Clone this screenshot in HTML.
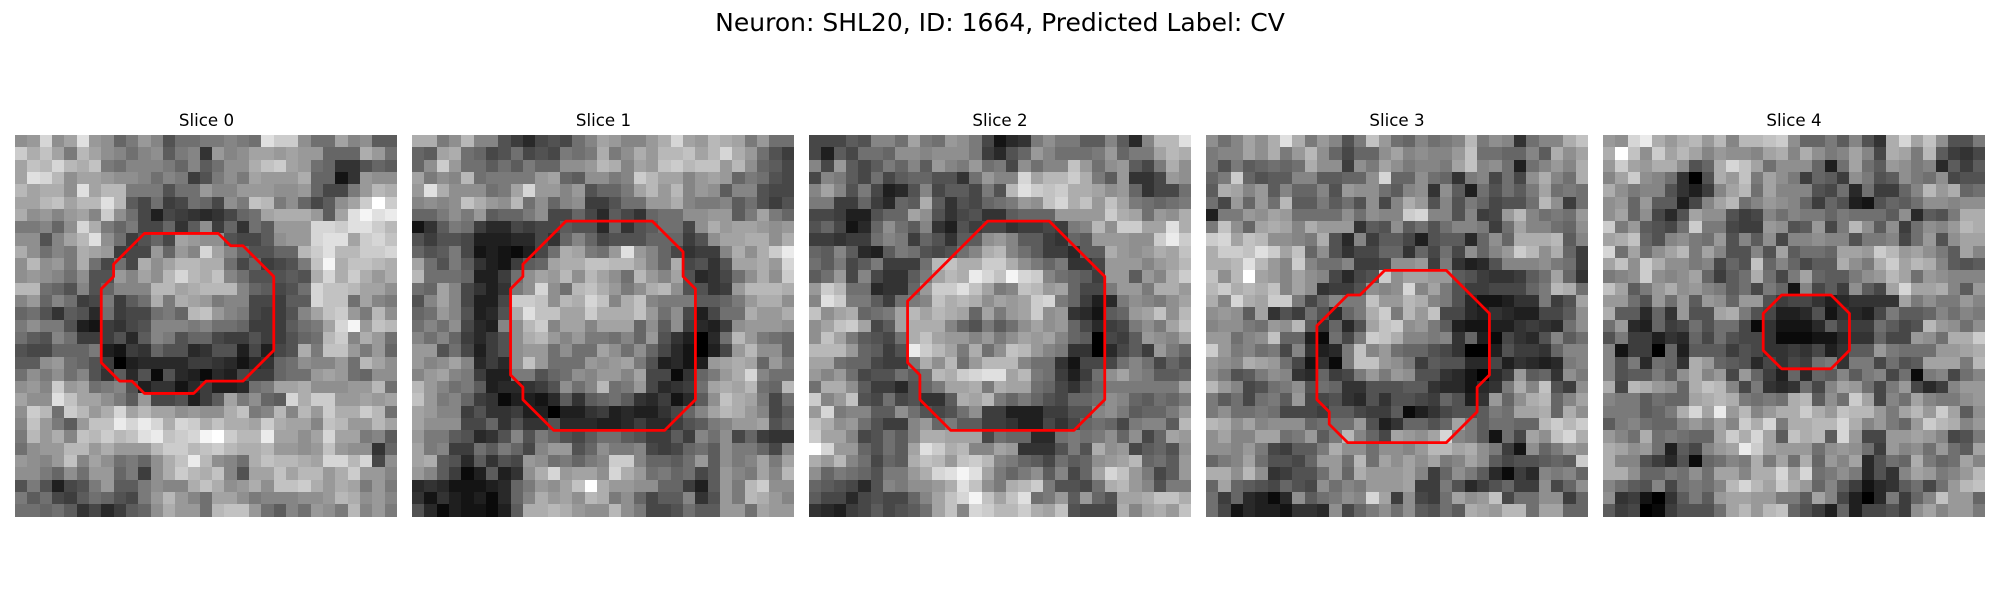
<!DOCTYPE html>
<html lang="en">
<head>
<meta charset="utf-8">
<title>Neuron slices</title>
<style>
html,body{margin:0;padding:0;background:#fff;width:2000px;height:600px;overflow:hidden}
svg{display:block}
text{font-family:"DejaVu Sans","Liberation Sans",sans-serif;fill:#000}
</style>
</head>
<body>
<svg id="figure" width="2000" height="600" viewBox="0 0 2000 600" xmlns="http://www.w3.org/2000/svg">
<rect x="0" y="0" width="2000" height="600" fill="#ffffff"/>
<text x="1000" y="31" font-size="25" text-anchor="middle">Neuron: SHL20, ID: 1664, Predicted Label: CV</text>
<text x="206.5" y="126" font-size="16.67" text-anchor="middle">Slice 0</text>
<text x="603.5" y="126" font-size="16.67" text-anchor="middle">Slice 1</text>
<text x="1000" y="126" font-size="16.67" text-anchor="middle">Slice 2</text>
<text x="1397" y="126" font-size="16.67" text-anchor="middle">Slice 3</text>
<text x="1794" y="126" font-size="16.67" text-anchor="middle">Slice 4</text>
</svg>
<script>
var slice0Values = [
[14,15,21,14,16,22,15,14,10,12,15,13,8,11,11,12,12,13,12,11,22,20,20,14,11,11,16,13,14,9,9],
[20,17,19,16,12,18,16,14,13,11,13,14,9,12,13,5,15,13,14,16,16,15,16,15,15,10,10,10,17,15,11],
[16,19,18,21,18,17,19,12,11,13,13,13,12,10,13,9,11,14,14,17,19,20,16,15,11,10,5,5,8,10,9],
[16,22,21,18,14,16,16,15,14,14,13,11,13,12,6,8,12,14,12,16,15,15,15,17,10,10,2,5,15,14,14],
[18,16,17,17,14,22,16,18,18,12,12,12,8,11,11,15,13,13,15,15,15,14,14,15,10,7,7,12,15,18,17],
[16,16,18,19,16,18,18,22,18,9,7,11,6,7,11,10,7,14,12,19,18,12,14,10,7,9,14,16,20,25,20],
[17,14,15,13,15,16,13,20,14,11,7,3,7,6,5,4,5,7,10,11,16,17,17,17,15,9,16,22,24,22,23],
[12,12,13,10,14,21,17,12,10,12,7,7,10,5,9,14,6,10,5,11,9,15,15,15,21,21,20,22,22,20,18],
[14,14,8,13,16,18,22,14,11,6,8,10,7,16,15,14,14,8,7,7,9,14,15,15,21,22,22,16,20,21,19],
[17,14,11,13,12,17,16,15,6,7,7,15,10,15,13,21,16,13,10,8,8,10,10,18,20,22,18,18,20,20,21],
[14,18,14,15,12,17,11,7,11,7,17,14,16,18,18,17,17,11,7,10,6,7,8,12,19,24,17,19,19,18,17],
[14,15,14,13,11,14,8,8,15,13,16,14,18,21,18,17,19,13,11,8,8,8,9,8,17,21,17,20,17,15,17],
[18,18,11,10,8,13,8,10,13,13,13,18,18,16,17,18,18,18,13,10,9,7,8,11,21,19,19,18,16,16,14],
[13,15,10,13,11,6,7,12,6,9,11,17,12,17,16,15,12,13,13,7,7,6,9,9,21,19,19,11,16,13,12],
[10,11,8,5,9,8,4,11,6,7,7,11,12,10,18,19,15,13,12,7,6,6,8,13,16,19,20,15,12,18,14],
[12,14,12,12,8,3,2,6,5,7,8,13,13,13,12,13,11,11,10,6,6,6,9,11,12,16,21,24,15,19,18],
[11,9,8,13,11,6,6,6,8,4,9,13,12,8,10,10,7,6,6,8,6,6,8,10,11,18,20,13,17,15,11],
[8,7,7,10,10,10,12,3,2,6,5,10,8,8,4,5,8,8,3,7,3,7,8,17,12,19,19,15,12,15,10],
[9,9,14,15,11,10,8,6,0,3,4,4,4,4,6,6,5,4,2,4,5,10,11,14,13,13,15,11,18,16,14],
[11,14,12,14,11,13,8,5,9,4,8,1,8,4,3,1,4,3,7,6,6,10,11,11,15,16,15,11,10,14,14],
[14,15,13,20,15,16,11,12,13,8,3,5,5,2,4,6,3,3,4,11,12,16,16,17,14,14,14,15,15,18,11],
[16,14,14,22,19,16,16,14,12,9,15,7,7,8,3,6,9,16,12,14,10,9,21,17,20,20,15,15,16,15,16],
[14,20,18,11,20,18,15,17,21,16,18,16,16,14,15,14,14,17,19,12,13,18,13,18,15,20,17,17,20,18,11],
[13,19,15,12,9,15,19,19,23,21,23,21,17,21,20,17,19,17,17,16,20,17,16,16,13,19,18,15,15,18,16],
[12,18,15,17,13,19,18,20,18,19,22,23,19,20,21,24,25,20,18,18,23,16,16,14,16,21,16,16,12,13,9],
[11,14,15,15,18,18,15,17,15,15,15,18,20,20,18,19,20,18,17,17,18,15,15,14,15,19,15,14,14,5,10],
[15,14,13,15,19,13,16,14,11,12,10,14,17,19,23,18,14,13,11,17,19,18,18,17,16,21,21,18,21,7,14],
[14,14,12,10,14,11,15,15,10,12,6,14,17,20,18,17,19,13,8,16,16,19,16,18,18,15,17,20,15,15,13],
[8,12,8,3,7,8,12,15,9,9,12,14,13,13,17,19,17,14,15,17,14,19,19,20,17,15,17,16,12,15,12],
[12,9,11,7,6,9,11,10,8,7,12,15,18,15,13,11,16,16,14,12,13,13,13,14,14,15,18,17,14,15,13],
[11,11,10,11,9,5,7,4,6,9,10,14,17,15,15,11,18,19,19,15,11,9,13,11,15,14,12,18,13,15,12]
];
var slice1Values = [
[17,17,12,14,18,13,13,8,6,4,7,8,7,11,13,16,15,13,13,15,17,21,16,15,18,17,16,12,15,11,11],
[10,9,16,17,11,10,7,8,11,7,8,7,12,11,12,17,12,14,17,15,18,18,19,16,18,21,17,15,11,8,6],
[10,14,20,15,11,11,9,11,9,12,10,10,14,14,15,18,17,13,16,15,19,20,18,19,19,15,18,14,10,9,7],
[16,12,14,13,18,11,12,12,12,12,15,16,10,9,14,14,12,13,20,18,16,16,13,15,16,15,10,12,11,8,7],
[15,22,17,14,14,14,11,12,16,21,15,15,13,15,8,10,10,12,16,18,15,18,13,15,14,9,13,13,8,7,7],
[13,14,13,14,19,17,15,14,18,11,14,10,13,14,6,6,8,11,11,15,15,17,13,12,12,13,9,11,8,6,8],
[10,10,12,14,12,15,9,10,10,12,14,7,7,10,7,4,9,7,5,10,11,11,14,14,15,15,9,12,16,12,10],
[2,5,9,12,11,6,4,4,7,6,7,7,9,8,8,4,10,5,8,9,11,11,7,14,17,15,16,16,15,14,15],
[8,6,8,8,7,3,3,3,4,4,7,5,10,13,10,7,8,8,8,10,10,10,6,8,14,16,16,17,17,14,17],
[10,8,9,12,7,2,3,2,1,3,7,11,17,16,12,11,15,22,15,13,10,7,5,6,6,13,17,14,17,20,23],
[16,11,8,12,9,5,3,2,6,9,10,16,17,17,19,19,18,18,16,13,10,17,7,8,5,8,16,16,17,15,21],
[18,11,11,11,10,3,3,6,11,14,16,15,18,14,18,16,14,11,18,15,13,16,8,4,5,7,11,14,17,14,20],
[11,10,16,13,7,5,3,5,12,14,21,14,11,18,19,17,15,12,14,17,18,14,8,8,5,6,15,18,18,18,17],
[8,13,16,13,7,3,3,7,20,20,19,14,18,17,21,19,13,17,19,13,12,12,12,9,9,10,12,15,17,17,14],
[10,11,15,13,8,3,4,8,17,22,19,19,16,16,20,17,17,17,19,15,11,14,7,3,7,11,11,17,15,15,17],
[11,13,11,14,7,4,3,13,14,18,20,13,16,16,13,16,16,16,10,14,9,14,6,4,3,6,14,15,15,15,14],
[13,11,13,10,6,4,6,8,14,17,18,15,13,15,12,12,11,13,10,15,8,5,3,0,4,11,18,15,12,11,10],
[15,15,8,11,7,3,6,8,14,15,15,11,14,11,11,16,14,11,14,10,7,4,2,0,3,7,15,18,14,14,10],
[15,13,14,16,13,4,6,4,14,19,15,11,11,11,15,14,15,16,12,8,3,4,2,3,15,16,17,16,10,15,12],
[13,15,16,13,12,6,3,3,12,12,8,10,11,14,13,15,15,13,16,7,7,1,5,10,12,15,17,21,13,11,11],
[18,15,13,11,12,9,3,4,4,5,6,8,14,11,13,18,11,12,15,7,4,5,6,11,16,17,16,18,11,10,18],
[19,15,12,13,10,6,5,1,3,3,2,4,9,5,9,10,11,9,5,4,6,2,4,9,14,19,17,16,12,7,11],
[16,15,13,13,6,8,5,5,6,3,3,0,3,3,5,6,3,4,3,3,5,7,10,13,16,18,17,15,13,7,9],
[16,14,14,14,7,7,10,5,8,5,5,8,4,4,4,3,3,4,6,4,4,6,8,9,12,13,15,15,16,8,10],
[15,12,12,9,8,4,5,8,13,8,12,10,8,7,9,11,11,9,8,6,6,9,6,13,11,14,7,10,6,5,5],
[16,12,13,6,6,11,9,12,10,7,13,15,15,8,10,14,12,12,13,7,6,7,10,11,9,14,12,12,10,7,13],
[16,17,9,8,4,9,5,8,7,15,14,11,12,10,12,13,20,20,13,10,10,9,11,15,9,14,12,13,16,12,16],
[15,13,9,6,1,3,9,3,5,14,17,21,15,16,16,14,21,17,15,11,12,10,11,7,9,15,13,12,16,13,18],
[4,5,4,2,2,2,3,4,10,12,15,14,16,19,25,17,15,15,14,14,10,10,6,3,9,15,12,18,20,14,14],
[5,2,5,3,2,3,1,4,10,13,17,15,16,14,18,17,12,14,10,7,9,9,13,5,8,15,12,18,17,15,13],
[8,4,1,3,2,2,1,3,9,17,17,18,17,15,14,14,18,14,12,7,7,8,11,9,9,15,15,11,16,15,15]
];
var slice2Values = [
[7,7,7,9,8,13,13,11,16,12,11,15,14,12,7,2,4,5,12,14,12,12,9,9,13,9,4,13,18,18,22],
[7,3,9,7,11,11,10,14,14,13,14,14,14,12,6,4,8,10,15,13,11,11,11,12,15,10,12,12,16,18,17],
[13,7,15,9,7,9,12,10,13,9,15,13,12,15,11,12,7,14,11,13,13,19,15,11,14,15,9,7,12,17,14],
[7,13,12,9,7,11,7,9,10,10,8,8,5,11,15,13,13,21,16,18,18,20,17,12,9,15,5,5,7,15,14],
[13,16,13,8,12,7,3,4,8,13,7,9,9,7,12,8,18,22,20,19,20,17,17,16,14,15,10,5,7,7,11],
[12,12,6,6,10,6,4,10,9,17,9,5,8,7,10,11,12,15,14,19,21,17,19,15,19,16,12,11,10,11,12],
[7,7,6,3,3,8,10,10,16,14,8,5,7,8,5,5,9,10,10,10,15,15,15,15,20,17,16,11,15,14,17],
[8,10,7,2,4,10,14,11,9,13,5,3,8,6,7,7,5,6,6,7,6,12,13,18,14,20,20,16,16,22,17],
[6,6,5,6,6,11,13,12,6,10,8,5,9,9,14,15,13,9,9,6,5,10,9,15,15,15,14,14,20,23,20],
[10,9,13,9,4,3,9,12,11,8,7,8,11,13,17,18,13,11,9,6,6,4,9,9,17,15,14,15,17,16,19],
[11,9,12,7,9,12,6,6,6,11,18,19,17,17,20,20,17,14,12,10,12,5,5,7,15,15,15,13,15,16,18],
[9,11,15,7,13,7,5,5,9,12,16,18,17,23,21,19,24,21,20,13,11,10,9,6,15,15,9,15,13,17,20],
[15,20,18,11,11,4,5,5,10,15,20,20,22,19,16,12,13,19,18,15,16,10,7,7,12,15,15,12,17,17,15],
[13,22,20,12,12,9,6,11,12,13,19,17,18,17,14,16,15,16,20,21,12,10,6,3,4,12,14,13,12,14,16],
[19,14,16,17,10,11,12,16,18,16,18,17,16,10,16,12,15,16,20,14,15,5,4,2,9,10,15,16,19,14,18],
[14,16,19,20,16,7,9,16,17,17,17,13,10,8,12,9,11,14,16,14,15,10,7,4,6,7,12,14,12,16,19],
[14,19,16,12,9,8,7,11,17,19,16,15,15,13,15,12,14,16,15,16,13,10,9,0,7,6,9,15,14,13,16],
[18,18,18,15,10,9,6,8,23,20,18,16,12,17,11,14,19,18,15,13,12,5,5,0,4,7,9,6,15,12,10],
[16,16,11,10,10,7,6,6,12,17,14,18,11,15,18,18,18,13,11,11,5,2,7,7,7,11,13,11,7,10,8],
[15,13,15,11,7,8,8,11,9,11,18,17,20,21,22,22,16,18,12,11,6,3,6,11,14,16,13,12,9,9,10],
[11,17,17,14,9,6,6,4,8,10,12,16,16,17,12,17,16,16,11,10,7,5,8,10,12,12,12,12,12,12,16],
[20,13,15,19,8,7,11,7,8,5,5,9,17,16,18,12,10,12,10,8,7,10,10,11,14,13,10,9,11,10,12],
[15,21,12,13,13,9,9,14,11,8,7,8,11,14,6,6,3,3,3,6,6,8,8,13,14,12,9,10,10,12,15],
[19,17,14,15,11,8,6,6,13,15,10,12,9,9,6,6,5,3,3,7,5,7,10,11,10,7,12,13,13,9,18],
[20,16,16,13,7,8,11,9,13,17,17,16,16,16,7,11,10,10,4,4,11,12,11,12,14,10,14,7,10,16,15],
[25,21,15,15,10,8,11,9,16,22,20,17,18,13,13,16,15,5,5,5,8,12,8,17,14,15,7,9,10,8,14],
[17,15,18,13,11,7,10,9,17,19,18,15,19,20,18,13,12,10,9,7,11,9,10,14,15,16,18,10,11,9,15],
[14,10,12,11,10,8,12,12,15,17,21,22,24,22,16,12,10,12,14,9,13,7,10,16,21,19,15,12,7,9,15],
[10,9,8,7,4,8,13,12,14,14,15,17,22,19,14,12,17,18,20,12,8,8,7,11,17,18,15,13,8,12,12],
[9,7,7,4,7,8,7,7,10,13,16,19,21,24,19,16,19,22,11,12,15,9,15,10,8,16,16,17,19,19,17],
[5,4,3,6,7,9,7,8,9,11,16,19,13,21,20,18,18,20,17,16,19,8,7,7,7,17,13,16,17,15,19]
];
var slice3Values = [
[14,11,13,16,14,17,22,17,12,15,13,8,12,19,15,11,10,13,11,12,13,18,12,14,13,5,11,13,13,17,19],
[12,13,13,16,14,17,12,15,18,14,10,7,10,10,14,16,13,14,13,13,15,19,11,11,10,10,13,9,17,14,16],
[12,8,12,9,10,11,10,11,17,14,14,6,14,12,16,14,12,13,13,12,16,19,13,14,11,3,11,13,15,13,17],
[10,12,20,10,8,9,9,13,13,9,9,10,10,14,21,10,10,14,11,10,5,12,13,7,11,7,14,17,13,11,17],
[9,17,16,13,15,9,13,10,10,13,8,15,14,14,11,9,13,14,5,14,9,3,11,8,11,9,12,16,11,12,11],
[11,7,15,10,15,11,18,9,9,12,9,11,8,14,7,13,17,15,8,13,8,12,10,7,8,8,11,18,14,6,11],
[3,12,12,15,14,16,15,11,11,11,11,14,11,14,13,13,20,21,13,13,8,13,6,7,15,18,13,11,12,11,15],
[12,19,14,10,16,17,16,13,17,15,15,15,5,9,8,14,9,11,8,11,13,13,12,6,11,16,13,13,11,10,14],
[20,21,16,19,18,14,14,13,12,17,8,4,13,6,9,9,7,3,8,9,9,4,10,14,10,17,17,17,18,9,13],
[17,20,20,19,22,20,16,19,10,14,8,5,7,7,10,10,5,10,7,11,7,14,10,13,15,20,18,14,17,10,6],
[17,17,18,22,18,15,13,20,13,11,11,13,6,6,7,14,14,15,6,12,5,3,4,8,13,13,13,14,12,11,6],
[19,14,18,25,16,15,13,16,14,13,7,4,7,8,20,14,16,16,15,15,9,8,6,5,5,6,9,11,16,10,5],
[18,20,17,18,17,19,13,16,14,5,6,6,8,14,13,14,21,13,16,12,8,6,6,7,7,7,10,12,18,17,11],
[17,13,21,17,16,20,20,12,7,10,13,12,12,19,15,15,18,17,13,12,8,4,2,2,3,5,5,12,6,8,16],
[14,15,14,9,16,5,8,6,11,8,4,10,12,17,20,12,18,15,19,7,7,4,3,5,4,3,3,7,7,9,14],
[13,14,14,12,11,15,14,18,9,5,10,4,8,16,19,20,14,15,12,9,3,2,2,3,3,5,6,5,4,11,14],
[15,15,11,13,14,19,10,10,3,1,11,7,12,20,19,17,13,13,12,13,5,10,3,1,7,5,4,8,13,9,11],
[20,15,12,13,11,12,7,13,5,3,4,12,19,13,15,11,10,10,8,7,5,0,0,3,8,6,6,5,10,13,13],
[15,14,13,17,16,15,11,7,2,5,1,12,19,19,15,14,12,6,9,8,8,4,4,7,3,5,4,3,4,12,13],
[14,12,8,9,12,14,13,5,4,10,6,7,12,15,12,15,14,8,8,5,4,2,0,4,6,15,9,10,5,14,12],
[18,15,13,7,8,11,12,14,8,11,10,5,5,8,8,8,9,9,5,4,4,2,4,5,12,17,13,19,8,6,14],
[12,9,11,7,11,12,9,15,7,7,8,5,4,8,5,8,8,7,6,10,8,3,5,15,10,14,17,18,10,13,16],
[12,14,11,11,12,11,7,7,7,6,9,9,7,6,6,9,1,3,5,7,8,8,9,12,11,16,16,17,10,17,14],
[18,17,14,16,13,14,14,14,10,11,11,11,15,8,3,5,10,10,8,10,16,12,9,11,11,10,10,18,20,18,20],
[14,16,13,13,16,16,11,12,15,9,12,18,13,10,7,16,15,14,16,21,13,12,9,2,11,7,16,14,19,21,17],
[14,14,13,15,12,7,6,9,9,12,17,14,14,11,14,14,13,15,18,18,16,17,14,12,6,2,14,10,12,15,14],
[10,12,13,16,11,8,8,7,10,15,15,11,18,11,16,14,16,14,16,12,13,16,14,9,7,8,8,9,10,9,20],
[17,17,14,18,14,5,6,8,8,11,15,10,17,15,15,15,16,13,6,10,14,12,9,4,1,6,4,13,12,13,10],
[10,16,10,9,8,7,10,8,7,14,11,13,12,15,15,15,16,6,6,12,8,4,6,8,10,6,6,14,7,10,14],
[11,6,10,4,3,1,4,14,9,11,12,14,13,21,16,6,14,7,6,11,16,14,15,19,7,11,11,14,14,6,10],
[11,7,2,4,3,3,2,5,5,4,14,7,10,12,14,11,14,9,8,11,9,17,16,15,18,18,11,16,16,10,10]
];
var slice4Values = [
[15,14,21,23,17,15,17,18,15,18,13,18,18,19,20,14,10,10,12,9,13,8,5,17,21,16,19,14,8,8,12],
[17,25,19,14,20,16,18,16,13,15,14,14,13,16,17,13,17,14,12,13,16,13,7,17,16,12,18,9,6,5,7],
[15,20,16,15,17,17,14,8,10,17,21,19,16,11,14,14,14,10,3,11,16,11,9,15,14,12,13,4,9,6,9],
[13,16,20,14,13,11,5,0,8,17,15,19,12,16,14,12,6,10,9,6,14,12,8,9,14,12,11,14,7,8,8],
[17,14,12,13,13,8,5,3,6,13,16,18,11,16,13,13,13,8,7,11,4,11,6,6,10,13,18,15,17,10,11],
[14,15,10,15,9,9,3,7,13,16,18,11,13,15,14,13,10,6,10,8,3,2,8,10,9,11,14,14,13,14,14],
[14,16,10,14,7,4,8,16,14,14,8,6,7,13,11,13,12,12,10,12,11,11,11,9,14,4,9,8,12,17,17],
[20,12,15,9,8,7,11,20,12,12,7,6,6,15,14,8,9,15,7,12,18,14,9,14,6,11,14,13,15,18,17],
[16,17,19,10,8,13,14,12,11,15,8,13,9,14,7,13,13,14,13,13,8,12,12,13,7,11,15,8,14,16,16],
[21,11,16,11,14,16,18,12,16,13,8,8,13,8,16,9,11,11,10,16,16,15,20,18,15,16,14,12,9,16,13],
[16,19,14,20,17,14,14,12,13,7,10,8,19,10,13,10,7,9,9,17,14,12,17,20,16,18,17,13,9,8,9],
[12,13,14,20,14,13,14,16,10,6,9,11,17,11,7,12,16,10,9,9,12,14,15,18,16,11,15,14,13,13,13],
[19,16,9,12,15,17,14,15,13,12,9,11,7,12,10,2,13,7,9,6,14,9,7,16,21,16,16,17,13,9,15],
[15,15,11,8,15,11,15,9,15,14,10,15,15,8,6,7,7,5,3,4,5,5,5,5,16,12,14,12,12,15,13],
[17,9,9,4,10,5,15,8,8,16,17,12,8,7,3,3,4,8,2,5,4,3,7,12,9,9,10,13,11,13,12],
[11,15,4,3,10,6,7,11,8,11,11,7,1,5,2,2,2,4,9,6,6,6,11,9,7,8,18,15,14,11,14],
[8,12,6,6,3,5,4,10,7,11,8,7,7,5,1,1,1,2,2,4,5,5,10,7,7,15,14,11,17,17,20],
[13,2,6,6,0,10,3,9,9,9,6,8,7,5,5,6,5,7,3,5,9,9,15,12,11,11,11,15,15,16,17],
[13,8,12,4,11,10,5,17,15,10,9,8,4,7,5,7,6,11,12,5,12,12,7,11,8,9,16,16,16,12,18],
[13,8,9,9,12,9,14,17,13,15,7,15,10,6,3,10,4,10,9,13,9,12,13,7,11,1,12,13,7,11,13],
[17,7,18,17,15,14,10,17,19,18,13,7,12,5,4,5,11,7,13,16,15,11,7,12,15,7,4,6,13,15,15],
[13,12,12,9,11,10,10,16,17,18,17,12,11,12,11,17,18,9,14,11,20,16,7,13,11,16,13,12,12,14,15],
[12,12,12,9,10,12,17,21,16,23,15,18,13,15,17,17,20,17,15,19,18,18,15,12,16,18,15,20,16,9,14],
[9,12,13,11,10,10,13,15,13,16,13,20,17,21,12,17,17,18,18,21,17,13,15,12,10,15,20,18,17,13,15],
[15,13,11,17,11,12,11,10,10,16,20,17,21,16,9,19,17,18,9,21,15,7,7,15,15,16,15,13,7,8,12],
[17,16,14,15,11,3,9,7,13,15,16,23,20,16,15,15,15,11,14,15,14,11,6,15,13,14,11,15,11,9,16],
[17,13,13,8,6,4,8,1,10,11,13,12,17,12,16,11,17,10,15,13,16,4,8,11,10,17,12,10,11,16,13],
[17,17,14,10,10,12,11,14,11,16,16,13,17,17,21,16,21,11,12,14,12,4,8,5,13,16,15,12,13,15,18],
[13,11,9,8,13,7,11,12,11,13,18,21,18,16,20,17,15,10,13,9,6,2,4,5,9,11,7,11,15,18,19],
[14,5,6,2,0,5,9,12,9,15,16,16,15,15,12,12,9,16,13,7,3,0,4,12,6,10,13,19,15,15,10],
[9,6,7,0,1,6,8,8,8,11,16,18,15,18,19,10,8,6,3,10,3,7,7,8,6,14,16,13,15,15,12]
];

var slice0ContourCol = [10.5,16.5,17.5,18.5,21,21,18.5,15.5,14.5,10.5,9.5,8.5,7,7,8,8];
var slice0ContourRow = [8,8,9,9,11.5,17.5,20,20,21,21,20,20,18.5,12.5,11.5,10.5];
var slice1ContourCol = [12.5,19.5,22,22,23,23,20.5,11.5,9,9,8,8,9,9];
var slice1ContourRow = [7,7,9.5,11.5,12.5,21.5,24,24,21.5,20.5,19.5,12.5,11.5,10.5];
var slice2ContourCol = [14.5,19.5,24,24,21.5,11.5,9,9,8,8];
var slice2ContourRow = [7,7,11.5,21.5,24,24,21.5,19.5,18.5,13.5];
var slice3ContourCol = [14.5,19.5,23,23,22,22,19.5,11.5,10,10,9,9,11.5,12.5];
var slice3ContourRow = [11,11,14.5,19.5,20.5,22.5,25,25,23.5,22.5,21.5,15.5,13,13];
var slice4ContourCol = [14.5,18.5,20,20,18.5,14.5,13,13];
var slice4ContourRow = [13,13,14.5,17.5,19,19,17.5,14.5];

var sliceGrids = [slice0Values, slice1Values, slice2Values, slice3Values, slice4Values];
var contourCols = [slice0ContourCol, slice1ContourCol, slice2ContourCol, slice3ContourCol, slice4ContourCol];
var contourRows = [slice0ContourRow, slice1ContourRow, slice2ContourRow, slice3ContourRow, slice4ContourRow];
var gridSize = 31;
var maxIntensity = 25;

var SVG_NS = 'http://www.w3.org/2000/svg';
var figure = document.getElementById('figure');
var panelLeft = 15;
var panelStep = 397;
var panelWidth = 382;
var panelTop = 135;
var panelHeight = 381.5;

function xScale(panelIndex, col) {
  return panelLeft + panelStep * panelIndex + col / gridSize * panelWidth;
}
function yScale(row) {
  return panelTop + row / gridSize * panelHeight;
}
function grayScale(value) {
  var g = Math.max(0, Math.min(255, Math.round(value / maxIntensity * 255)));
  return 'rgb(' + g + ',' + g + ',' + g + ')';
}

sliceGrids.forEach(function (grid, p) {
  var panel = document.createElementNS(SVG_NS, 'g');
  
  
  panel.setAttribute('shape-rendering', 'crispEdges');
  grid.forEach(function (rowValues, r) {
    rowValues.forEach(function (value, c) {
      var cell = document.createElementNS(SVG_NS, 'rect');
      
      
      var x0 = Math.round(xScale(p, c));
      var x1 = Math.round(xScale(p, c + 1));
      var y0 = Math.round(yScale(r));
      var y1 = Math.round(yScale(r + 1));
      cell.setAttribute('x', x0);
      cell.setAttribute('y', y0);
      cell.setAttribute('width', x1 - x0);
      cell.setAttribute('height', y1 - y0);
      cell.setAttribute('fill', grayScale(value));
      panel.appendChild(cell);
    });
  });
  figure.appendChild(panel);

  var points = contourCols[p].map(function (col, i) {
    return xScale(p, col).toFixed(2) + ',' + yScale(contourRows[p][i]).toFixed(2);
  }).join(' ');
  var contour = document.createElementNS(SVG_NS, 'polygon');
  
  
  contour.setAttribute('points', points);
  contour.setAttribute('fill', 'none');
  contour.setAttribute('stroke', '#ff0000');
  contour.setAttribute('stroke-width', '2.78');
  contour.setAttribute('stroke-linejoin', 'round');
  figure.appendChild(contour);
});
</script>
</body>
</html>
